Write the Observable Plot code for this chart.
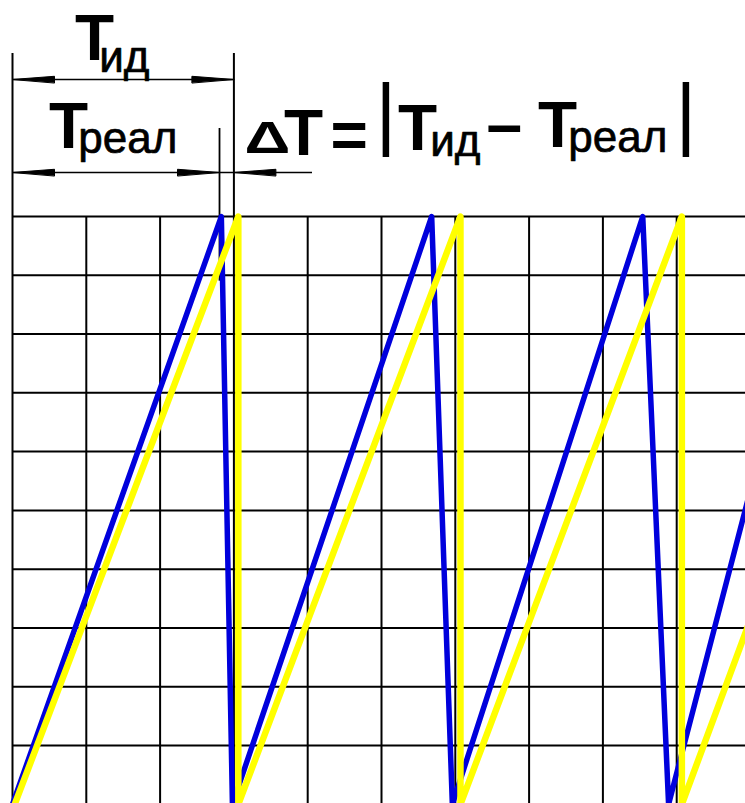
<!DOCTYPE html>
<html>
<head>
<meta charset="utf-8">
<script src="https://cdn.jsdelivr.net/npm/d3@7"></script>
<script src="https://cdn.jsdelivr.net/npm/@observablehq/plot@0.6"></script>
<style>
  html, body { margin: 0; padding: 0; background: #fff; overflow: hidden; }
  #chart svg { display: block; }
</style>
</head>
<body>
<div id="chart"></div>
<script>
// ---- grid (grid units: 1 cell = 1 unit) ----
const gridX = [0, 1, 2, 3, 4, 5, 6, 7, 8, 9, 10];
const gridY = [1, 2, 3, 4, 5, 6, 7, 8, 9, 10];

// ---- ideal sawtooth (yellow) ----
const idealX = [0.03, 3.06, 3.06, 6.07, 6.07, 9.07, 9.07, 10];
const idealY = [0, 10, 0, 10, 0, 10, 0, 3.15];

// ---- real sawtooth (blue) ----
const realX = [0, 2.83, 2.98, 5.68, 5.96, 8.54, 8.89, 10];
const realY = [0, 10, 0, 10, 0, 10, 0, 5.35];

// ---- dimension annotations ----
const periodIdeal = 3.0;    // T_ид
const periodReal = 2.805;   // T_реал
const deltaEnd = 4.065;     // end of the ΔT leader

// ---- label texts ----
const labels = ["T", "ид", "T", "реал", "Δ", "T", "=", "|", "T", "ид", "–", "T", "реал", "|"];

// ---- layout (kept apart from the values) ----
const labelU = [0.847, 1.175, 0.495, 0.891, 3.144, 3.679, 4.309, 4.919, 5.224, 5.660, 6.423, 7.121, 7.530, 8.984];
const labelV = [12.654, 12.450, 11.157, 11.072, 11.072, 11.038, 11.004, 11.293, 11.123, 11.021, 11.191, 11.174, 11.089, 11.293];
const labelStyle = ["big", "sub", "big", "sub", "delta", "big", "big", "bar", "big", "sub", "big", "big", "sub", "bar"];
const styles = {
  big:   {fontSize: 64, fontWeight: "bold"},
  sub:   {fontSize: 44, fontWeight: "normal", stroke: "black", strokeWidth: 0.7},
  delta: {fontSize: 44, fontWeight: "bold"},
  bar:   {fontSize: 80, fontWeight: "normal"}
};
const dimIdealV = 12.331, dimRealV = 10.749, extTopV = 12.773, extRealTopV = 11.497, extRealBottomV = 8.9;

const FONT = "Arial, 'Liberation Sans', sans-serif";
const xRange = [12, 750], yRange = [803.8, 216];
const pxPerU = (xRange[1] - xRange[0]) / 10;
const pxPerV = (yRange[0] - yRange[1]) / 10;

const idealPts = idealX.map((x, i) => ({x, y: idealY[i]}));
const realPts = realX.map((x, i) => ({x, y: realY[i]}));

// arrowheads: tip position + direction (-1 = points left, +1 = points right)
const arrows = [
  {tip: 0, v: dimIdealV, dir: -1},
  {tip: periodIdeal, v: dimIdealV, dir: 1},
  {tip: 0, v: dimRealV, dir: -1},
  {tip: periodReal, v: dimRealV, dir: 1},
  {tip: periodIdeal, v: dimRealV, dir: -1}
];
const headLen = 42 / pxPerU, headHalf = 3.2 / pxPerV;
const arrowPts = arrows.flatMap((a, k) => {
  const base = a.tip - a.dir * headLen;
  return [
    {k, x: a.tip, y: a.v},
    {k, x: base, y: a.v + headHalf},
    {k, x: base, y: a.v - headHalf}
  ];
});

const textMarks = labels.map((t, i) => Plot.text([t], {
  x: () => labelU[i], y: () => labelV[i], text: d => d,
  textAnchor: "start", lineAnchor: "bottom",
  fontFamily: FONT, fill: "black",
  ...styles[labelStyle[i]]
}));

const chart = Plot.plot({
  width: 745,
  height: 803,
  margin: 0,
  style: {fontFamily: FONT, background: "white"},
  x: {domain: [0, 10], range: xRange, axis: null},
  y: {domain: [0, 10], range: yRange, axis: null},
  marks: [
    // grid
    Plot.ruleX(gridX, {x: d => d, y1: 0, y2: 10, stroke: "black", strokeWidth: 2}),
    Plot.ruleY(gridY, {y: d => d, x1: 0, x2: 10, stroke: "black", strokeWidth: 2}),
    // extension lines
    Plot.ruleX([0, periodIdeal], {x: d => d, y1: 10, y2: extTopV, stroke: "black", strokeWidth: 2}),
    Plot.ruleX([periodReal], {x: d => d, y1: extRealBottomV, y2: extRealTopV, stroke: "black", strokeWidth: 1.8}),
    // dimension lines
    Plot.ruleY([dimIdealV], {y: d => d, x1: 0, x2: periodIdeal, stroke: "black", strokeWidth: 1.6}),
    Plot.ruleY([dimRealV], {y: d => d, x1: 0, x2: deltaEnd, stroke: "black", strokeWidth: 1.6}),
    Plot.line(arrowPts, {x: "x", y: "y", z: "k", fill: "black", stroke: "black", strokeWidth: 1, curve: "linear-closed"}),
    // waveforms
    Plot.line(realPts, {x: "x", y: "y", stroke: "#0000dc", strokeWidth: 5.5, clip: true}),
    Plot.line(idealPts, {x: "x", y: "y", stroke: "#ffff00", strokeWidth: 6.5, clip: true}),
    // labels
    ...textMarks
  ]
});

// widen the Δ glyph as in the reference
d3.select(chart).selectAll("text").filter(function () { return this.textContent === "Δ"; })
  .each(function () {
    const t = this.getAttribute("transform") || "";
    this.setAttribute("transform", t + " scale(1.45,1)");
  });

document.getElementById("chart").appendChild(chart);
</script>
</body>
</html>
